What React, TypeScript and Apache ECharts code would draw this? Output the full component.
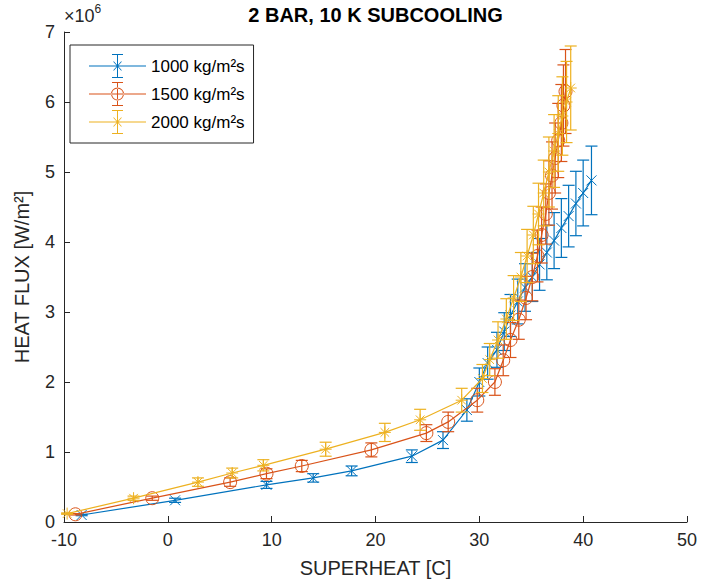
import React, { useEffect, useRef } from "react";
import * as echarts from "echarts";

const FONT = "Liberation Sans, Arial, Helvetica, sans-serif";

const xTicks = { min: -10, max: 50, interval: 10 };
const yTicks = { min: 0, max: 7, interval: 1 };

const seriesNames = ["1000 kg/m²s", "1500 kg/m²s", "2000 kg/m²s"];
const colors = ["#0072BD", "#D95319", "#EDB120"];

// 1000 kg/m2s
const blueX = [-8.3, 0.7, 9.5, 14.0, 17.7, 23.5, 26.5, 28.8, 30.0, 30.8, 31.7, 32.4, 33.0, 33.7, 34.4, 35.1, 35.8, 36.5, 37.2, 37.9, 38.6, 39.3, 40.0, 40.8];
const blueY = [0.10, 0.31, 0.53, 0.63, 0.73, 0.94, 1.17, 1.60, 2.00, 2.27, 2.46, 2.72, 2.95, 3.15, 3.35, 3.50, 3.68, 3.85, 4.02, 4.20, 4.37, 4.55, 4.70, 4.88];
const blueErr = [0.01, 0.03, 0.05, 0.06, 0.07, 0.09, 0.12, 0.16, 0.20, 0.23, 0.25, 0.27, 0.30, 0.32, 0.34, 0.35, 0.37, 0.39, 0.40, 0.42, 0.44, 0.46, 0.47, 0.49];

// 1500 kg/m2s
const orangeX = [-8.9, -1.5, 6.0, 9.5, 12.9, 19.6, 24.9, 27.0, 29.8, 31.5, 32.3, 33.0, 33.8, 34.5, 35.1, 35.6, 36.0, 36.4, 36.7, 37.0, 37.3, 37.6, 37.9, 38.1, 38.3];
const orangeY = [0.11, 0.34, 0.57, 0.69, 0.80, 1.03, 1.27, 1.43, 1.74, 2.00, 2.31, 2.60, 2.89, 3.20, 3.50, 3.80, 4.10, 4.40, 4.70, 4.95, 5.20, 5.45, 5.70, 5.95, 6.15];
const orangeErr = [0.01, 0.03, 0.06, 0.07, 0.08, 0.10, 0.12, 0.14, 0.17, 0.19, 0.22, 0.25, 0.28, 0.31, 0.34, 0.37, 0.40, 0.43, 0.46, 0.48, 0.50, 0.53, 0.55, 0.58, 0.60];

// 2000 kg/m2s
const yellowX = [-9.7, -3.3, 2.9, 6.2, 9.2, 15.2, 20.9, 24.3, 28.3, 30.3, 31.0, 31.8, 32.6, 33.3, 34.0, 34.6, 35.2, 35.7, 36.2, 36.7, 37.2, 37.6, 38.0, 38.4, 38.8];
const yellowY = [0.12, 0.34, 0.57, 0.70, 0.81, 1.04, 1.28, 1.46, 1.74, 2.05, 2.32, 2.60, 2.90, 3.20, 3.50, 3.80, 4.10, 4.40, 4.70, 5.00, 5.30, 5.55, 5.80, 6.00, 6.20];
const yellowErr = [0.01, 0.03, 0.06, 0.07, 0.08, 0.10, 0.13, 0.15, 0.17, 0.20, 0.23, 0.26, 0.29, 0.32, 0.35, 0.38, 0.41, 0.44, 0.47, 0.50, 0.52, 0.54, 0.56, 0.58, 0.60];

const markers = ["x", "o", "*"];

const ICON_BASE =
  "M0 11.5 L57 11.5 L57 12.5 L0 12.5 Z M28 0 L29 0 L29 24 L28 24 Z M23 0 L34 0 L34 1 L23 1 Z M23 23 L34 23 L34 24 L23 24 Z";
const ICON_X = " M24 7.5 L25 7.5 L33 16.5 L32 16.5 Z M32 7.5 L33 7.5 L25 16.5 L24 16.5 Z";
const ICON_O =
  " M35 12 A6.5 6.5 0 1 0 22 12 A6.5 6.5 0 1 0 35 12 Z M34 12 A5.5 5.5 0 1 1 23 12 A5.5 5.5 0 1 1 34 12 Z";
const icons = [
  "path://" + ICON_BASE + ICON_X,
  "path://" + ICON_BASE + ICON_O,
  "path://" + ICON_BASE + ICON_X,
];

function lineSeries(i: number, xs: number[], ys: number[]) {
  return {
    type: "line",
    name: seriesNames[i],
    data: xs.map((x, k) => [x, ys[k]]),
    showSymbol: false,
    symbol: "none",
    lineStyle: { color: colors[i], width: 1.2 },
    itemStyle: { color: colors[i] },
    z: 2 + i * 2,
    silent: true,
  };
}

function errSeries(i: number, xs: number[], ys: number[], es: number[]) {
  const color = colors[i];
  const marker = markers[i];
  return {
    type: "custom",
    name: seriesNames[i] + " error",
    data: xs.map((x, k) => [x, ys[k], es[k]]),
    encode: { x: 0, y: 1 },
    z: 3 + i * 2,
    silent: true,
    renderItem: (params: any, api: any) => {
      const x = api.value(0);
      const y = api.value(1);
      const e = api.value(2);
      const c = api.coord([x, y]);
      const hi = api.coord([x, y + e]);
      const lo = api.coord([x, y - e]);
      const cw = 6;
      const st = { stroke: color, lineWidth: 1.2, fill: "none" };
      const children: any[] = [
        { type: "line", shape: { x1: c[0], y1: hi[1], x2: c[0], y2: lo[1] }, style: st },
        { type: "line", shape: { x1: c[0] - cw, y1: hi[1], x2: c[0] + cw, y2: hi[1] }, style: st },
        { type: "line", shape: { x1: c[0] - cw, y1: lo[1], x2: c[0] + cw, y2: lo[1] }, style: st },
      ];
      const ms = { stroke: color, lineWidth: 1, fill: "none" };
      if (marker === "x") {
        const h = 5;
        children.push(
          { type: "line", shape: { x1: c[0] - h, y1: c[1] - h, x2: c[0] + h, y2: c[1] + h }, style: ms },
          { type: "line", shape: { x1: c[0] - h, y1: c[1] + h, x2: c[0] + h, y2: c[1] - h }, style: ms }
        );
      } else if (marker === "o") {
        children.push({ type: "circle", shape: { cx: c[0], cy: c[1], r: 6.5 }, style: ms });
      } else {
        const h = 6;
        const d = 4.3;
        children.push(
          { type: "line", shape: { x1: c[0] - h, y1: c[1], x2: c[0] + h, y2: c[1] }, style: ms },
          { type: "line", shape: { x1: c[0], y1: c[1] - h, x2: c[0], y2: c[1] + h }, style: ms },
          { type: "line", shape: { x1: c[0] - d, y1: c[1] - d, x2: c[0] + d, y2: c[1] + d }, style: ms },
          { type: "line", shape: { x1: c[0] - d, y1: c[1] + d, x2: c[0] + d, y2: c[1] - d }, style: ms }
        );
      }
      return { type: "group", children };
    },
  };
}

export default function App() {
  const ref = useRef<HTMLDivElement>(null);
  useEffect(() => {
    document.body.style.margin = "0";
    if (!ref.current) return;
    const chart = echarts.init(ref.current, null, { renderer: "svg" });
    const axisColor = "#262626";
    chart.setOption({
      animation: false,
      backgroundColor: "#ffffff",
      title: {
        text: "2 BAR, 10 K SUBCOOLING",
        left: 375.5,
        top: 5,
        padding: 0,
        textAlign: "center",
        textVerticalAlign: "top",
        textStyle: { fontFamily: FONT, fontSize: 20, fontWeight: "bold", color: "#000" },
      },
      grid: { left: 64, top: 32, width: 623, height: 490, containLabel: false },
      legend: {
        orient: "vertical",
        left: 70,
        top: 45,
        itemWidth: 57,
        itemHeight: 24,
        itemGap: 4,
        padding: [9, 9, 9, 19],
        borderColor: "#262626",
        borderWidth: 1,
        backgroundColor: "#ffffff",
        selectedMode: false,
        textStyle: { fontFamily: FONT, fontSize: 17, color: "#000" },
        itemStyle: { borderWidth: 0 },
        data: seriesNames.map((n, i) => ({
          name: n,
          icon: icons[i],
          itemStyle: { color: colors[i], borderWidth: 0 },
        })),
      },
      xAxis: {
        type: "value",
        min: xTicks.min,
        max: xTicks.max,
        interval: xTicks.interval,
        name: "SUPERHEAT [C]",
        nameLocation: "middle",
        nameGap: 36,
        nameTextStyle: { fontFamily: FONT, fontSize: 20, color: axisColor },
        axisLine: { show: true, onZero: false, lineStyle: { color: axisColor, width: 1 } },
        axisTick: { show: true, inside: true, length: 6, lineStyle: { color: axisColor } },
        axisLabel: { fontFamily: FONT, fontSize: 18, color: axisColor, margin: 9 },
        splitLine: { show: false },
      },
      yAxis: {
        type: "value",
        min: yTicks.min,
        max: yTicks.max,
        interval: yTicks.interval,
        name: "HEAT FLUX [W/m²]",
        nameLocation: "middle",
        nameRotate: 90,
        nameGap: 32,
        nameTextStyle: { fontFamily: FONT, fontSize: 20, color: axisColor },
        axisLine: { show: true, onZero: false, lineStyle: { color: axisColor, width: 1 } },
        axisTick: { show: true, inside: true, length: 6, lineStyle: { color: axisColor } },
        axisLabel: { fontFamily: FONT, fontSize: 18, color: axisColor, margin: 9 },
        splitLine: { show: false },
      },
      graphic: [
        {
          type: "text",
          left: 64,
          top: 3,
          style: {
            text: "{a|×10}{b|6}",
            rich: {
              a: { fontFamily: FONT, fontSize: 18, fill: axisColor, lineHeight: 22, verticalAlign: "bottom" },
              b: { fontFamily: FONT, fontSize: 12, fill: axisColor, lineHeight: 14, verticalAlign: "top" },
            },
          },
        },
      ],
      series: [
        lineSeries(0, blueX, blueY),
        errSeries(0, blueX, blueY, blueErr),
        lineSeries(1, orangeX, orangeY),
        errSeries(1, orangeX, orangeY, orangeErr),
        lineSeries(2, yellowX, yellowY),
        errSeries(2, yellowX, yellowY, yellowErr),
      ],
    });
    return () => chart.dispose();
  }, []);
  return <div ref={ref} style={{ width: 702, height: 586 }} />;
}
